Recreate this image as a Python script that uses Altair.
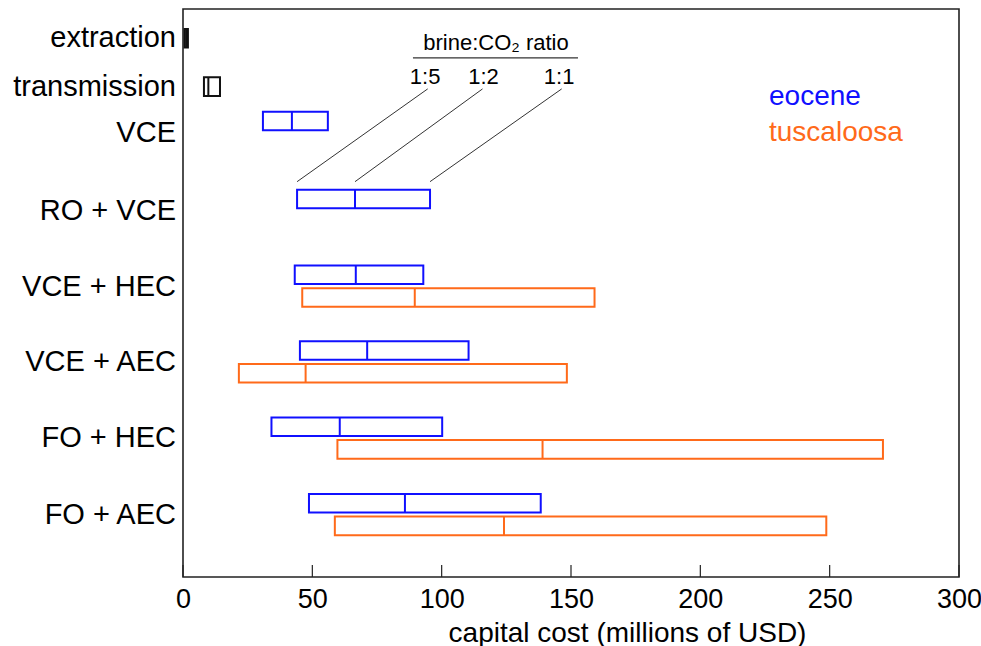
import altair as alt
import pandas as pd

# ---- data (millions of USD) ----
rows = ["extraction", "transmission", "VCE", "RO + VCE", "VCE + HEC", "VCE + AEC", "FO + HEC", "FO + AEC"]

bar_row = ["extraction", "transmission", "VCE", "RO + VCE", "VCE + HEC", "VCE + AEC", "FO + HEC", "FO + AEC",
           "VCE + HEC", "VCE + AEC", "FO + HEC", "FO + AEC"]
bar_series = ["none", "none", "eocene", "eocene", "eocene", "eocene", "eocene", "eocene",
              "tuscaloosa", "tuscaloosa", "tuscaloosa", "tuscaloosa"]
low = [0.6, 8.1, 30.9, 44.1, 43.2, 45.2, 34.2, 48.7, 46.1, 21.6, 59.7, 58.7]      # brine:CO2 1:5
mid = [1.2, 9.8, 42.1, 66.5, 66.8, 71.2, 60.6, 85.8, 89.6, 47.4, 139.0, 124.1]    # brine:CO2 1:2
high = [1.9, 14.3, 56.0, 95.5, 92.9, 110.4, 100.2, 138.3, 159.1, 148.4, 270.6, 248.7]  # brine:CO2 1:1

x_ticks = [0, 50, 100, 150, 200, 250, 300]
ratio_labels = ["1:5", "1:2", "1:1"]

# ---- layout (vertical positions of rows on a 0..15 scale) ----
row_pos = [0.77, 2.05, 3.27, 5.33, 7.33, 9.33, 11.34, 13.36]
series_offset = {"none": 0.0, "eocene": -0.31, "tuscaloosa": 0.29}
half_h = 0.245

BLUE = "#1010ff"
ORANGE = "#ff6a1a"
FONT = "Liberation Sans"

pos = dict(zip(rows, row_pos))
bars = pd.DataFrame({"row": bar_row, "series": bar_series, "low": low, "mid": mid, "high": high})
bars["yc"] = [pos[r] + series_offset[s] for r, s in zip(bars["row"], bars["series"])]
bars["y0"] = bars["yc"] - half_h
bars["y1"] = bars["yc"] + half_h

labels = pd.DataFrame({"row": rows, "pos": row_pos})

xs = alt.Scale(domain=[0, 300], nice=False, zero=False)
ys = alt.Scale(domain=[0, 15], reverse=True, nice=False, zero=False)
cscale = alt.Scale(domain=["eocene", "tuscaloosa", "none"], range=[BLUE, ORANGE, "#111111"])

base = alt.Chart(bars)
boxes = base.mark_rect(fill="white", strokeWidth=2).encode(
    x=alt.X("low:Q", scale=xs, axis=alt.Axis(values=x_ticks, title="capital cost  (millions of USD)",
                                              grid=False, ticks=False, domain=False,
                                              labelFont=FONT, labelFontSize=27, labelPadding=9,
                                              labelColor="black", labelFlush=False,
                                              titleFont=FONT, titleFontSize=28, titleFontWeight="normal",
                                              titleColor="black", titleX=444, titleY=56,
                                              titleAlign="center", titleBaseline="middle")),
    x2="high:Q",
    y=alt.Y("y0:Q", scale=ys, axis=None),
    y2="y1:Q",
    stroke=alt.Stroke("series:N", scale=cscale, legend=None),
)
mids = base.mark_rule(strokeWidth=2).encode(
    x=alt.X("mid:Q"),
    y=alt.Y("y0:Q"),
    y2="y1:Q",
    color=alt.Color("series:N", scale=cscale, legend=None),
)

row_text = alt.Chart(labels).mark_text(align="right", baseline="middle", font=FONT, fontSize=29,
                                       color="black").encode(
    x=alt.value(-7),
    y=alt.Y("pos:Q"),
    text="row:N",
)

ticks = alt.Chart(pd.DataFrame({"t": x_ticks})).mark_rule(color="#222222", strokeWidth=1.2).encode(
    x=alt.X("t:Q"),
    y=alt.value(568),
    y2=alt.value(556),
)

# brine:CO2 ratio annotation
ro = bars[(bars["row"] == "RO + VCE")].iloc[0]
lead = pd.DataFrame({
    "lab": ratio_labels,
    "xl": [93.6, 116.2, 145.4],
    "xt": [94.6, 115.8, 146.4],
    "xb": [float(ro["low"]), float(ro["mid"]), float(ro["high"])],
})
lead["yl"] = 1.80
lead["yt"] = 2.11
lead["yb"] = 4.56

lead_lines = alt.Chart(lead).mark_rule(color="#333333", strokeWidth=1).encode(
    x=alt.X("xt:Q"), x2="xb:Q",
    y=alt.Y("yt:Q"), y2="yb:Q",
)
lead_text = alt.Chart(lead).mark_text(font=FONT, fontSize=22, baseline="middle", align="center",
                                      color="black").encode(
    x=alt.X("xl:Q"), y=alt.Y("yl:Q"), text="lab:N",
)
ann = pd.DataFrame({"t": ["brine:CO\u2082 ratio"], "x": [121.0], "y": [0.90],
                    "ux": [88.9], "ux2": [152.7], "uy": [1.29]})
ann_text = alt.Chart(ann).mark_text(font=FONT, fontSize=22, baseline="middle", align="center",
                                    color="black").encode(
    x=alt.X("x:Q"), y=alt.Y("y:Q"), text="t:N",
)
ann_line = alt.Chart(ann).mark_rule(color="#333333", strokeWidth=1.2).encode(
    x=alt.X("ux:Q"), x2="ux2:Q", y=alt.Y("uy:Q"),
)

legend_eo = alt.Chart(pd.DataFrame({"t": ["eocene"]})).mark_text(
    font=FONT, fontSize=28, align="left", baseline="middle", color=BLUE).encode(
    x=alt.value(586), y=alt.value(88), text="t:N")
legend_tu = alt.Chart(pd.DataFrame({"t": ["tuscaloosa"]})).mark_text(
    font=FONT, fontSize=28, align="left", baseline="middle", color=ORANGE).encode(
    x=alt.value(586), y=alt.value(124), text="t:N")

chart = alt.layer(
    boxes, ticks, lead_lines, ann_line, mids, row_text, lead_text, ann_text, legend_eo, legend_tu
).properties(
    width=776, height=568,
    autosize=alt.AutoSizeParams(type="none"),
    padding={"left": 183, "top": 9, "right": 22, "bottom": 69},
    background="white",
).configure_view(stroke="#222222", strokeWidth=1.6)

chart.save("out.html", embed_options={"renderer": "svg", "actions": False})
